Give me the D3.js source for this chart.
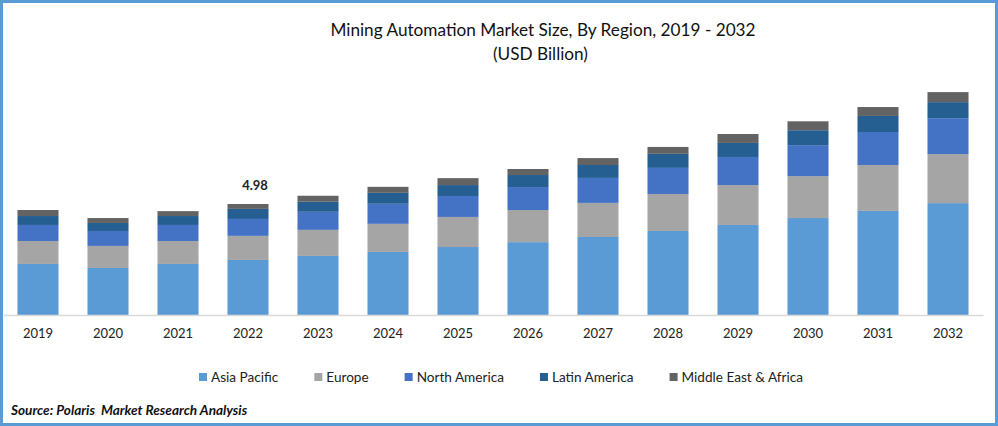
<!DOCTYPE html>
<html>
<head>
<meta charset="utf-8">
<script src="https://cdn.jsdelivr.net/npm/d3@7"></script>
<style>
  html, body { margin: 0; padding: 0; background: #fff; }
  svg { display: block; font-family: Lato, "Open Sans", sans-serif; }
  .domain { stroke: #d9d9d9; stroke-width: 1.5px; }
</style>
</head>
<body>
<svg id="chart" width="998" height="426"></svg>
<script>
const years = ["2019","2020","2021","2022","2023","2024","2025","2026","2027","2028","2029","2030","2031","2032"];
const regions = ["Asia Pacific","Europe","North America","Latin America","Middle East & Africa"];
const colors = ["#5b9bd5","#a5a5a5","#4472c4","#255e91","#636363"];

// USD billion (2022 total is labelled 4.98)
const asiaPacific  = [2.29,2.11,2.29,2.47,2.65,2.83,3.05,3.27,3.50,3.77,4.04,4.35,4.67,5.02];
const europe       = [1.03,0.99,1.03,1.08,1.17,1.26,1.35,1.44,1.53,1.66,1.79,1.88,2.06,2.20];
const northAmerica = [0.72,0.67,0.72,0.76,0.81,0.90,0.94,1.03,1.12,1.17,1.26,1.39,1.48,1.61];
const latinAmerica = [0.40,0.36,0.40,0.45,0.45,0.49,0.49,0.54,0.58,0.63,0.63,0.67,0.72,0.72];
const middleEast   = [0.27,0.22,0.22,0.22,0.27,0.27,0.31,0.27,0.31,0.31,0.40,0.40,0.40,0.45];
const seriesValues = [asiaPacific, europe, northAmerica, latinAmerica, middleEast];

const labelYear = "2022";
const labelText = "4.98";

const svg = d3.select("#chart");
const width = 998, height = 426;

// frame
svg.append("rect")
    .attr("x", 1.5).attr("y", 1.5)
    .attr("width", width - 3).attr("height", height - 3)
    .attr("fill", "#fff")
    .attr("stroke", "#5b9bd5")
    .attr("stroke-width", 3);

// title
svg.append("text").attr("x", 543).attr("y", 36)
    .attr("text-anchor", "middle").attr("font-size", 17.2).attr("fill", "#111")
    .text("Mining Automation Market Size, By Region, 2019 - 2032");
svg.append("text").attr("x", 540.5).attr("y", 60)
    .attr("text-anchor", "middle").attr("font-size", 17.2).attr("fill", "#111")
    .text("(USD Billion)");

const x = d3.scaleBand().domain(years).range([3, 983]).paddingInner(0.414).paddingOuter(0.207);
// 111 px for the labelled 4.98 total
const y = d3.scaleLinear().domain([0, 4.98]).range([315, 204]);

const rows = years.map((yr, i) => {
    const row = { year: yr };
    regions.forEach((r, j) => { row[r] = seriesValues[j][i]; });
    return row;
});
const stacked = d3.stack().keys(regions)(rows);

svg.append("g").selectAll("g")
    .data(stacked).join("g")
    .attr("fill", (d, i) => colors[i])
    .selectAll("rect")
    .data(d => d).join("rect")
    .attr("x", d => x(d.data.year))
    .attr("y", d => y(d[1]))
    .attr("width", x.bandwidth())
    .attr("height", d => y(d[0]) - y(d[1]));

// x axis
const axis = svg.append("g")
    .attr("transform", "translate(0,315)")
    .call(d3.axisBottom(x).tickSize(0).tickPadding(14));
axis.selectAll("text").attr("font-size", 13).attr("font-family", "Lato").attr("fill", "#222");

// the one labelled total
const top2022 = d3.sum(seriesValues, s => s[years.indexOf(labelYear)]);
svg.append("text")
    .attr("x", x(labelYear) + x.bandwidth() / 2 + 7)
    .attr("y", y(top2022) - 14)
    .attr("text-anchor", "middle")
    .attr("font-size", 13).attr("font-weight", 700).attr("fill", "#222")
    .text(labelText);

// legend, laid out from the measured text widths
let legendX = 199;
regions.forEach((r, i) => {
    const g = svg.append("g").attr("transform", `translate(${legendX},373)`);
    g.append("rect").attr("width", 8).attr("height", 8).attr("fill", colors[i]);
    const t = g.append("text").attr("x", 12).attr("y", 8.5)
        .attr("font-size", 13.6).attr("fill", "#222").text(r);
    legendX += 12 + t.node().getComputedTextLength() + 36;
});

// source
svg.append("text").attr("x", 11).attr("y", 415)
    .attr("font-size", 13.6).attr("font-weight", 700).attr("font-style", "italic").attr("fill", "#111")
    .style("white-space", "pre")
    .text("Source: Polaris  Market Research Analysis");
</script>
</body>
</html>
